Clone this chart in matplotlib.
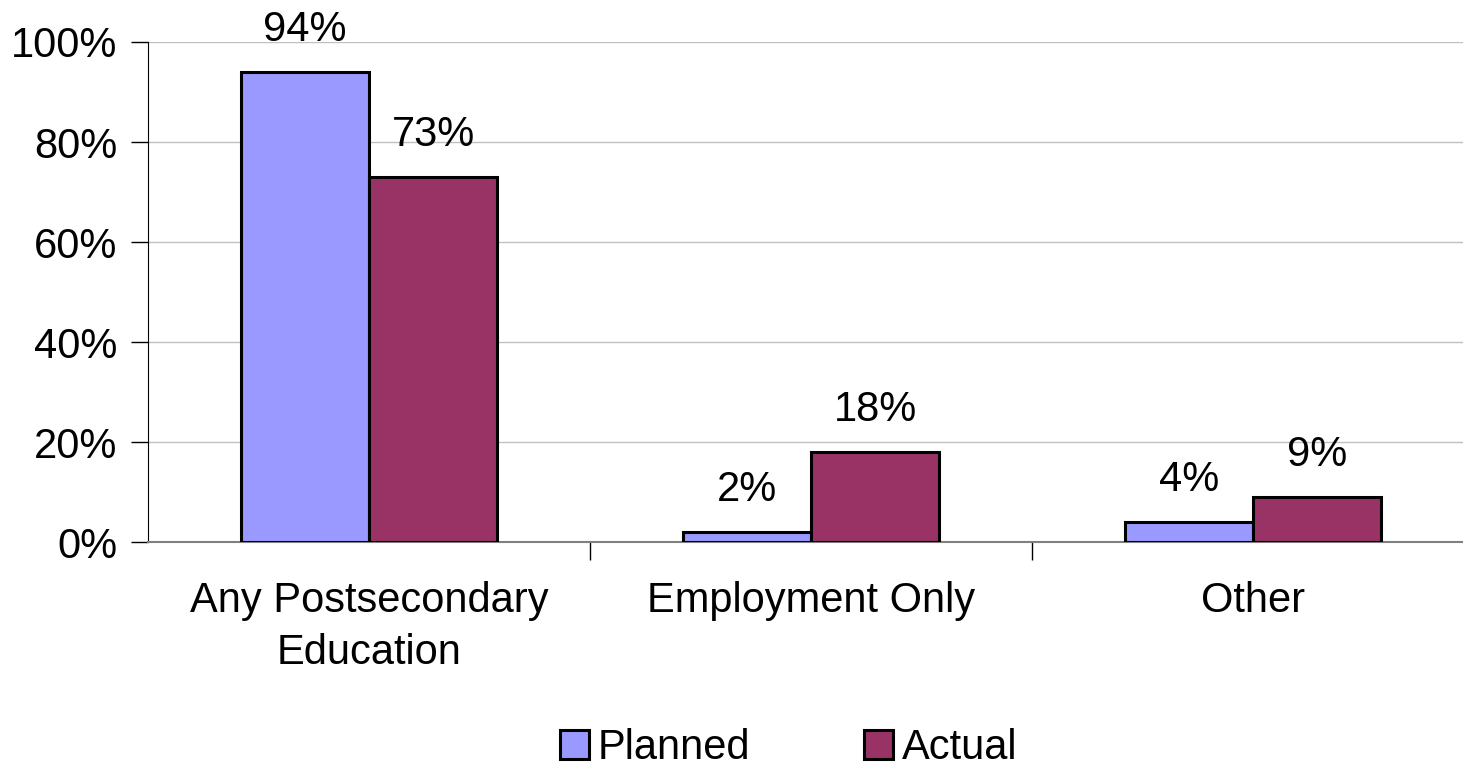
import numpy as np
import matplotlib.pyplot as plt
from matplotlib.ticker import PercentFormatter

plt.rcParams['font.family'] = ['Liberation Sans', 'DejaVu Sans']

categories = ["Any Postsecondary\nEducation", "Employment Only", "Other"]
planned = [94, 2, 4]
actual = [73, 18, 9]

col_planned = "#9999ff"
col_actual = "#993366"
fs = 30

fig = plt.figure(figsize=(14.63, 7.72), dpi=100)
ax = fig.add_axes([0.1012, 0.2979, 0.9064, 0.6477])

x = np.arange(len(categories))
w = 0.29
b1 = ax.bar(x - w / 2, planned, w, color=col_planned, edgecolor="black", linewidth=2.2, label="Planned", zorder=3)
b2 = ax.bar(x + w / 2, actual, w, color=col_actual, edgecolor="black", linewidth=2.2, label="Actual", zorder=3)

for bars, vals in ((b1, planned), (b2, actual)):
    for r, v in zip(bars, vals):
        ax.annotate(f"{v}%", (r.get_x() + r.get_width() / 2, v), xytext=(0, 30),
                    textcoords="offset points", ha="center", va="center", fontsize=fs)

ax.set_xlim(-0.5, 2.5)
ax.set_ylim(0, 100)
ax.set_yticks(range(0, 101, 20))
ax.yaxis.set_major_formatter(PercentFormatter(decimals=0))
ax.grid(axis="y", color="#c0c0c0", linewidth=1, zorder=0)

# category labels between the boundary ticks
ax.set_xticks([0.5, 1.5])
ax.set_xticklabels([])
ax.set_xticks(x, minor=True)
ax.set_xticklabels(categories, minor=True, fontsize=fs, linespacing=1.4)
ax.tick_params(axis="x", which="minor", length=0, pad=28)
ax.tick_params(axis="x", which="major", length=13, width=1, color="black")
ax.tick_params(axis="y", length=12, width=1, labelsize=fs, pad=10)

for s in ("top", "right"):
    ax.spines[s].set_visible(False)
ax.spines["left"].set_color("black")
ax.spines["bottom"].set_color("#808080")
ax.spines["bottom"].set_linewidth(1.5)

fig.legend(handles=[b1, b2], loc="lower center", bbox_to_anchor=(0.539, -0.043), ncol=2,
           frameon=False, fontsize=fs, handlelength=0.7, handleheight=0.7,
           handletextpad=0.2, columnspacing=2.74)

fig.savefig("out.png", dpi=100)
